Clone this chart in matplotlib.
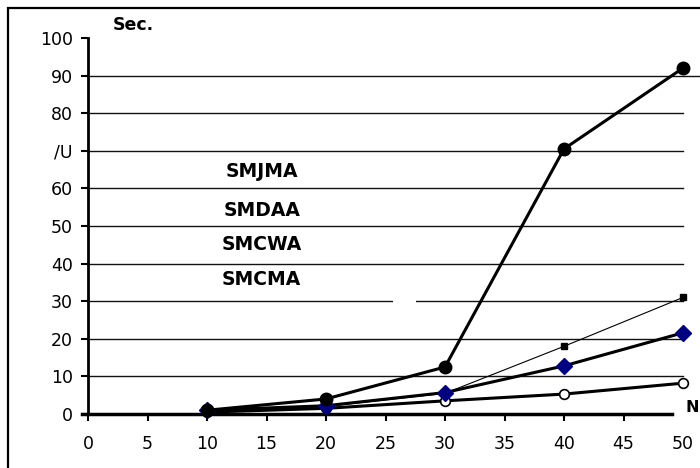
import matplotlib.pyplot as plt
import matplotlib.patches as patches

# ==== DATA ====
n_values = [10, 20, 30, 40, 50]
smjma = [1.0, 4.0, 12.5, 70.5, 92.0]
smdaa = [0.5, 2.0, 5.5, 18.0, 31.0]
smcwa = [1.0, 2.2, 5.7, 12.8, 21.6]
smcma = [0.5, 1.5, 3.5, 5.3, 8.2]

y_ticks = [0, 10, 20, 30, 40, 50, 60, 70, 80, 90, 100]
y_tick_labels = ["0", "10", "20", "30", "40", "50", "60", "/U", "80", "90", "100"]
x_ticks = [0, 5, 10, 15, 20, 25, 30, 35, 40, 45, 50]
series_names = ["SMJMA", "SMDAA", "SMCWA", "SMCMA"]

plt.rcParams['font.family'] = ['DejaVu Sans']

fig = plt.figure(figsize=(7, 4.68), dpi=100)
ax = fig.add_axes([88 / 700, 1 - 414 / 468, 595 / 700, 376 / 468])

# outer frame (cut off on right/bottom like the source)
fig.patches.append(patches.Rectangle((8 / 700, -0.1), 1.2, 1 - 8 / 468 + 0.1,
                                     transform=fig.transFigure, fill=False,
                                     edgecolor='black', linewidth=1.6))

# ==== GRIDLINES ====
for yv in y_ticks[1:-1]:
    x_end = 51.5 if yv == 90 else 50
    ax.plot([0, x_end], [yv, yv], color='#111111', linewidth=1.0, zorder=1, clip_on=False)
# small gap in the 30 line
ax.add_patch(patches.Rectangle((25.6, 29), 2.0, 2, facecolor='white', edgecolor='none', zorder=1.5))

# ==== SERIES ====
ax.plot(n_values, smcma, color='black', linewidth=2.2, marker='o', markersize=7,
        markerfacecolor='white', markeredgecolor='black', markeredgewidth=1.2,
        zorder=3, clip_on=False)
ax.plot(n_values, smdaa, color='black', linewidth=0.8, marker='s', markersize=4.5,
        markerfacecolor='black', zorder=4, clip_on=False)
ax.plot(n_values, smcwa, color='black', linewidth=2.2, marker='D', markersize=8,
        markerfacecolor='#000080', markeredgecolor='#000080', zorder=4, clip_on=False)
ax.plot(n_values, smjma, color='black', linewidth=2.2, marker='o', markersize=9,
        markerfacecolor='black', zorder=5, clip_on=False)

# ==== LABELS ====
label_y = [64.6, 54.0, 45.0, 35.9]
for name, ly in zip(series_names, label_y):
    ax.text(14.6, ly, name, fontsize=13.5, fontweight='bold', ha='center', va='center')
ax.text(2.1, 103.5, "Sec.", fontsize=12.5, fontweight='bold', ha='left', va='center', clip_on=False)
ax.text(50.25, 1.6, "N", fontsize=11.5, fontweight='bold', ha='left', va='center', clip_on=False)

# ==== AXES ====
ax.set_xlim(0, 50)
ax.set_ylim(0, 100)
ax.set_xticks(x_ticks)
ax.set_yticks(y_ticks)
ax.set_yticklabels(y_tick_labels)
ax.tick_params(axis='both', direction='out', length=5, width=1.5, labelsize=12.5, colors='black')
ax.tick_params(axis='y', pad=6)
ax.tick_params(axis='x', pad=10)
ax.spines['top'].set_visible(False)
ax.spines['right'].set_visible(False)
ax.spines['left'].set_linewidth(2)
ax.spines['bottom'].set_linewidth(2.5)
ax.spines['bottom'].set_bounds(-0.5, 49.1)
ax.xaxis.get_major_ticks()[-1].tick1line.set_visible(False)
ax.set_facecolor('none')

fig.savefig("out.png", dpi=100)
